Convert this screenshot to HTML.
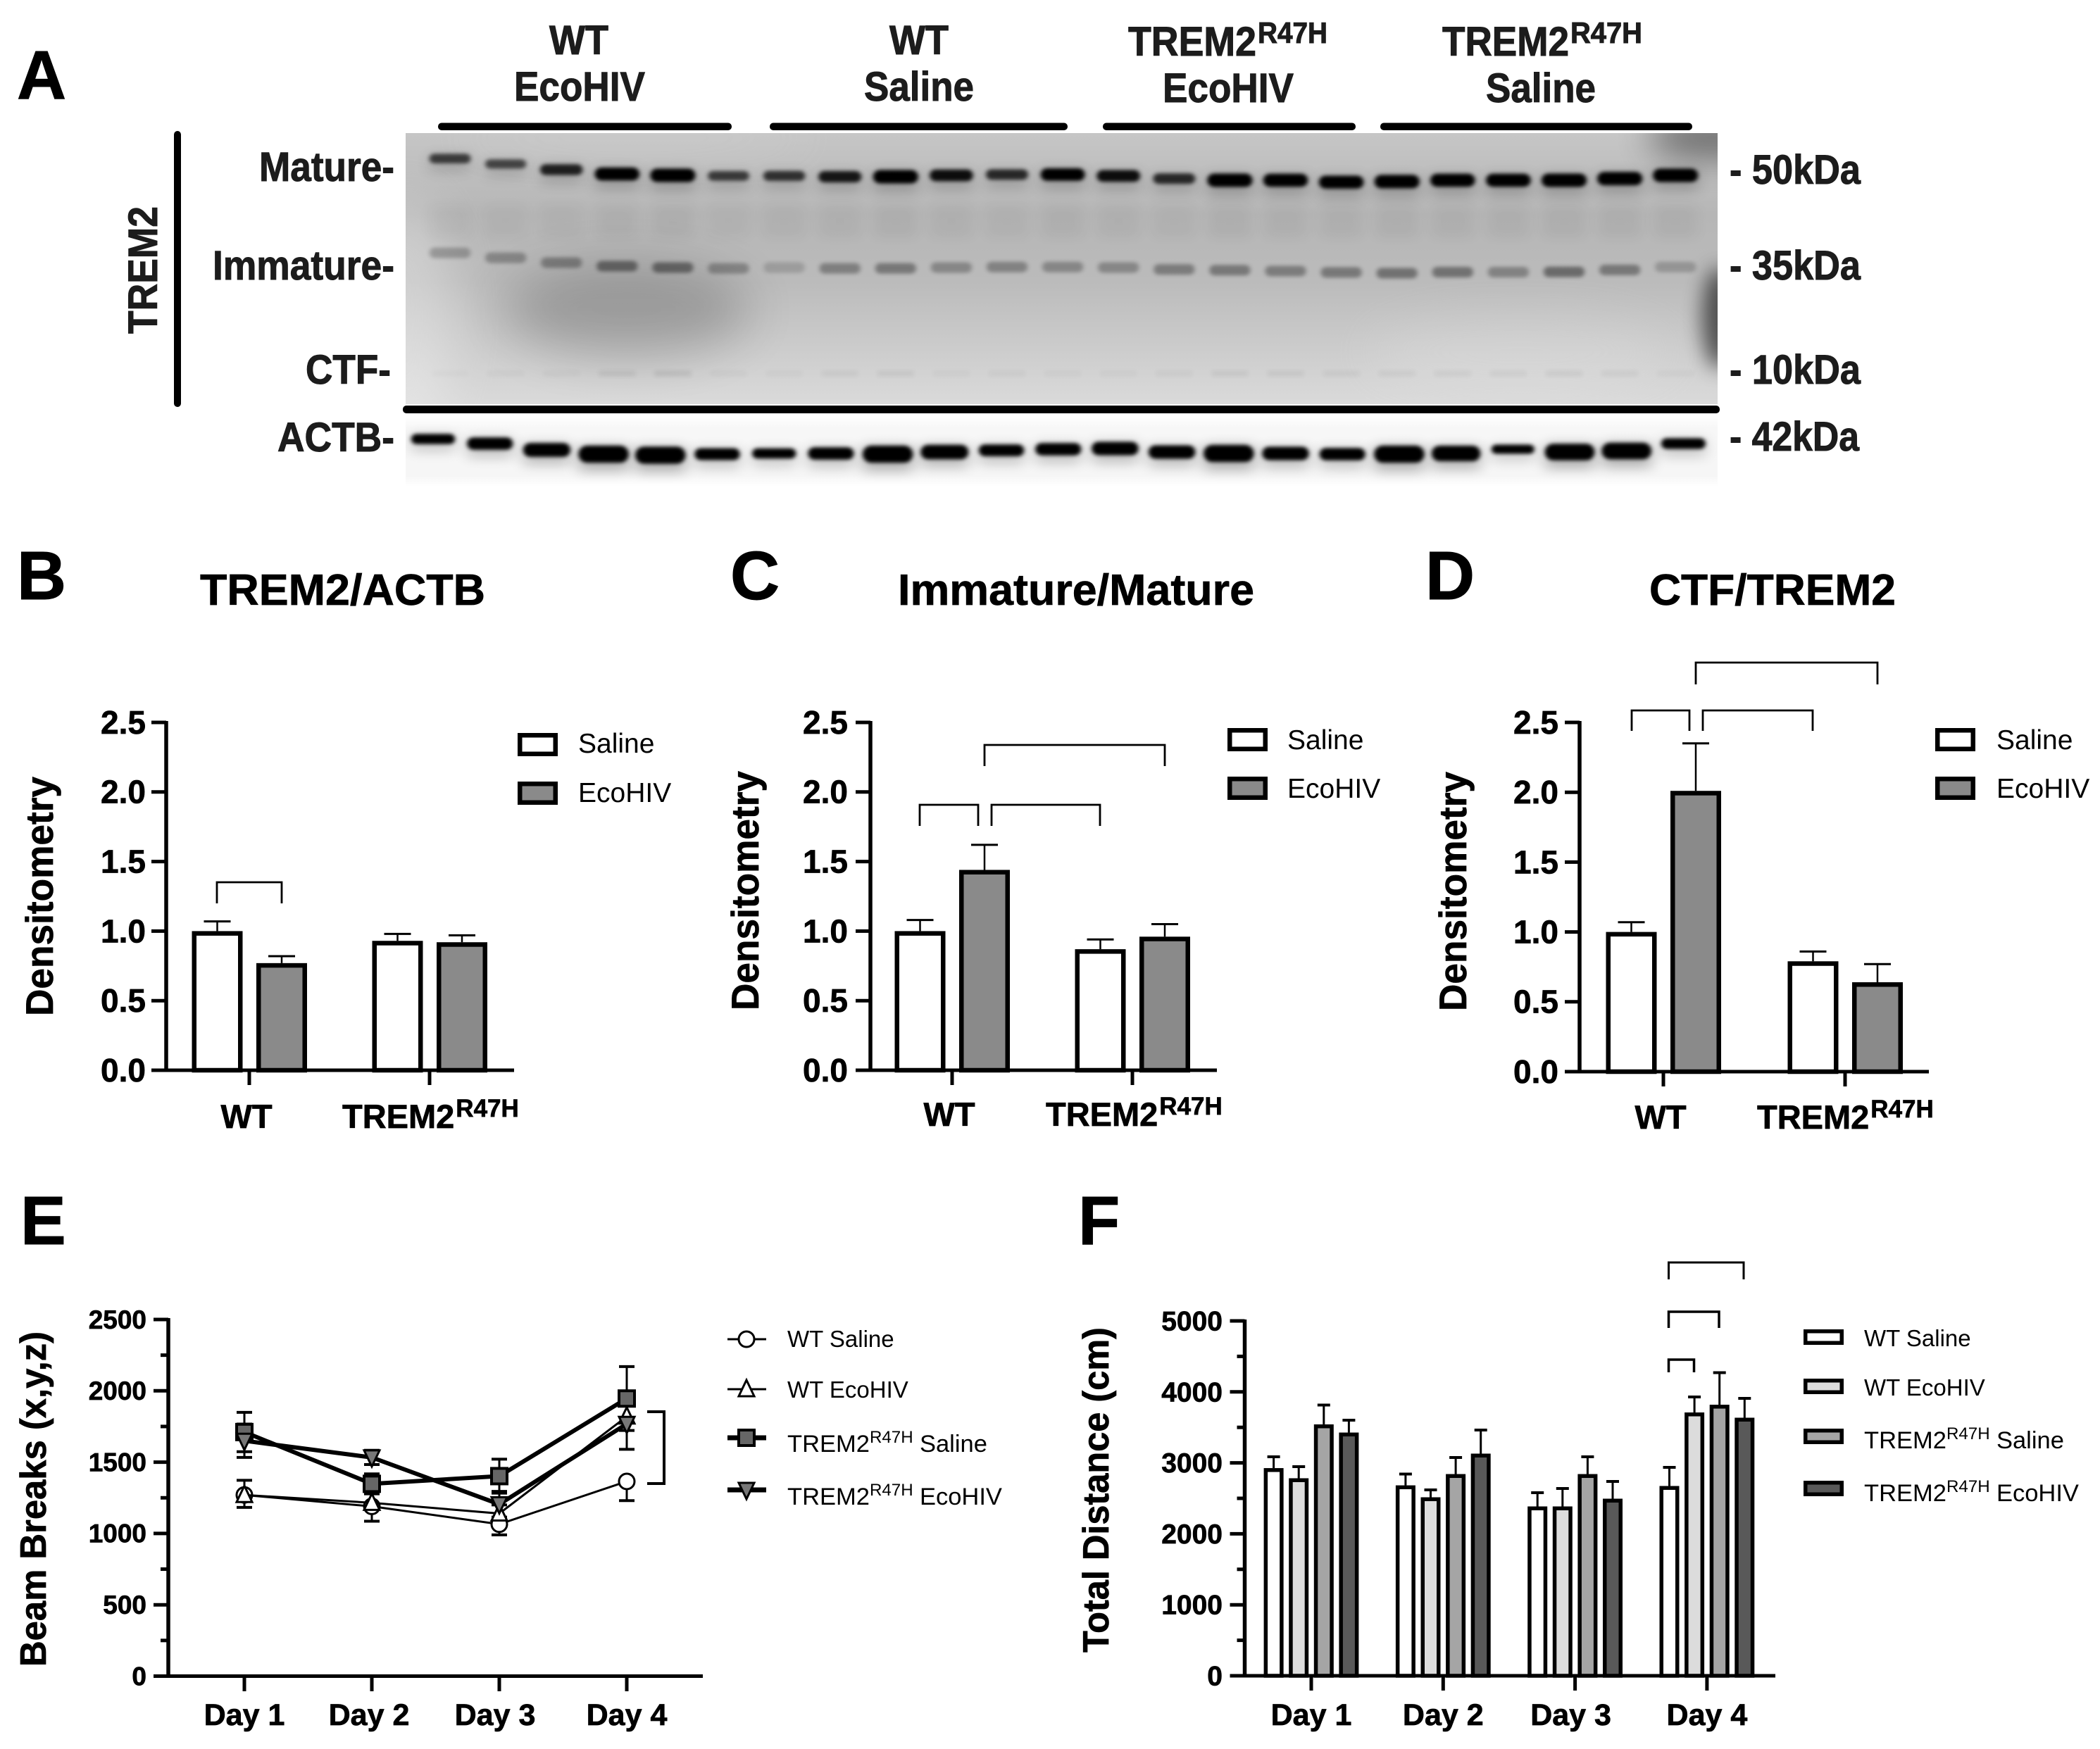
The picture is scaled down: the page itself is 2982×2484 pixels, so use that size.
<!DOCTYPE html>
<html lang="en">
<head>
<meta charset="utf-8">
<title>TREM2 western blot and behaviour figure</title>
<style>
html,body{margin:0;padding:0;background:#fff;}
svg{display:block;}
text{font-family:"Liberation Sans",Arial,sans-serif;}
.b{font-weight:700;}
.ab{font-weight:700;fill:#1c1c1c;font-size:58px;stroke:#1c1c1c;stroke-width:1;}
.letter{font-weight:700;font-size:97px;fill:#000;stroke:#000;stroke-width:1;}
text[font-weight="700"]{stroke:#000;stroke-width:.7;}
</style>
</head>
<body>
<svg id="figure" width="2982" height="2484" viewBox="0 0 2982 2484">
<defs>
<linearGradient id="blotBg" x1="0" y1="0" x2="0" y2="1">
<stop offset="0" stop-color="#c6c6c6"/><stop offset=".3" stop-color="#b6b6b6"/><stop offset=".55" stop-color="#bbbbbb"/><stop offset=".78" stop-color="#cbcbcb"/><stop offset="1" stop-color="#dadada"/>
</linearGradient>
<linearGradient id="actbBg" x1="0" y1="0" x2="0" y2="1">
<stop offset="0" stop-color="#ffffff"/><stop offset=".18" stop-color="#f7f7f7"/><stop offset=".85" stop-color="#f6f6f6"/><stop offset="1" stop-color="#ffffff"/>
</linearGradient>
<filter id="soft" x="-30%" y="-200%" width="160%" height="500%"><feGaussianBlur stdDeviation="3.2 2.6"/></filter>
<filter id="softer" x="-40%" y="-100%" width="180%" height="300%"><feGaussianBlur stdDeviation="10 8"/></filter>
<filter id="haze" filterUnits="userSpaceOnUse" x="300" y="0" width="2400" height="800"><feGaussianBlur stdDeviation="34"/></filter>
<filter id="haze2" filterUnits="userSpaceOnUse" x="2200" y="0" width="500" height="800"><feGaussianBlur stdDeviation="14"/></filter>
<filter id="haze3" filterUnits="userSpaceOnUse" x="2200" y="0" width="500" height="800"><feGaussianBlur stdDeviation="24"/></filter>
<clipPath id="clipUpper"><rect x="576" y="189" width="1863" height="385"/></clipPath>
<clipPath id="clipLower"><rect x="576" y="590" width="1863" height="101"/></clipPath>
</defs>

<rect x="0" y="0" width="2982" height="2484" fill="#fff"/>

<g id="panelA">
<text class="letter" x="24" y="140">A</text>
<text class="ab" x="780" y="77" textLength="84" lengthAdjust="spacingAndGlyphs">WT</text>
<text class="ab" x="730" y="143" textLength="186" lengthAdjust="spacingAndGlyphs">EcoHIV</text>
<text class="ab" x="1263" y="77" textLength="84" lengthAdjust="spacingAndGlyphs">WT</text>
<text class="ab" x="1227" y="143" textLength="156" lengthAdjust="spacingAndGlyphs">Saline</text>
<text class="ab" x="1602" y="79" textLength="182" lengthAdjust="spacingAndGlyphs">TREM2</text>
<text class="ab" x="1786" y="61" style="font-size:42px" textLength="99" lengthAdjust="spacingAndGlyphs">R47H</text>
<text class="ab" x="1651" y="145" textLength="186" lengthAdjust="spacingAndGlyphs">EcoHIV</text>
<text class="ab" x="2048" y="79" textLength="180" lengthAdjust="spacingAndGlyphs">TREM2</text>
<text class="ab" x="2230" y="61" style="font-size:42px" textLength="102" lengthAdjust="spacingAndGlyphs">R47H</text>
<text class="ab" x="2110" y="145" textLength="156" lengthAdjust="spacingAndGlyphs">Saline</text>

<rect x="622" y="174.5" width="417" height="10.5" rx="5" fill="#000"/>
<rect x="1093" y="174.5" width="423" height="10.5" rx="5" fill="#000"/>
<rect x="1566" y="174.5" width="359" height="10.5" rx="5" fill="#000"/>
<rect x="1960" y="174.5" width="443" height="10.5" rx="5" fill="#000"/>

<rect x="247" y="186" width="10" height="392" rx="5" fill="#000"/>
<text class="ab" transform="translate(223 474) rotate(-90)" x="0" y="0" textLength="181" lengthAdjust="spacingAndGlyphs">TREM2</text>

<text class="ab" x="368" y="257" textLength="192" lengthAdjust="spacingAndGlyphs">Mature-</text>
<text class="ab" x="302" y="397" textLength="258" lengthAdjust="spacingAndGlyphs">Immature-</text>
<text class="ab" x="434" y="545" textLength="121" lengthAdjust="spacingAndGlyphs">CTF-</text>
<text class="ab" x="394" y="641" textLength="166" lengthAdjust="spacingAndGlyphs">ACTB-</text>

<g clip-path="url(#clipUpper)">
<rect x="576" y="189" width="1863" height="385" fill="url(#blotBg)"/>
<ellipse cx="890" cy="440" rx="175" ry="65" fill="#000" opacity=".2" filter="url(#haze)"/>
<ellipse cx="575" cy="450" rx="70" ry="170" fill="#fff" opacity=".3" filter="url(#haze)"/>
<ellipse cx="900" cy="195" rx="260" ry="20" fill="#fff" opacity=".12" filter="url(#haze)"/>
<ellipse cx="2160" cy="500" rx="220" ry="50" fill="#fff" opacity=".14" filter="url(#haze)"/>
<ellipse cx="2441" cy="452" rx="24" ry="72" fill="#000" opacity=".6" filter="url(#haze2)"/>
<ellipse cx="2430" cy="195" rx="90" ry="30" fill="#000" opacity=".45" filter="url(#haze3)"/>
<g id="upperBands"></g>
</g>
<rect x="572" y="576" width="1870" height="11" rx="5" fill="#000"/>
<g clip-path="url(#clipLower)">
<rect x="576" y="590" width="1863" height="101" fill="url(#actbBg)"/>
<g id="lowerBands"></g>
</g>

<text class="ab" x="2456" y="261" textLength="186" lengthAdjust="spacingAndGlyphs">- 50kDa</text>
<text class="ab" x="2456" y="397" textLength="186" lengthAdjust="spacingAndGlyphs">- 35kDa</text>
<text class="ab" x="2456" y="545" textLength="186" lengthAdjust="spacingAndGlyphs">- 10kDa</text>
<text class="ab" x="2456" y="640" textLength="184" lengthAdjust="spacingAndGlyphs">- 42kDa</text>
</g>

<text class="letter" x="24" y="851">B</text>
<text class="letter" x="1037" y="851">C</text>
<text class="letter" x="2024" y="851">D</text>
<text class="letter" x="29" y="1767">E</text>
<text class="letter" x="1531" y="1767">F</text>

<text class="b" x="284" y="859" font-size="62" font-weight="700" textLength="405" lengthAdjust="spacingAndGlyphs">TREM2/ACTB</text>
<text class="b" x="1275" y="859" font-size="62" font-weight="700" textLength="506" lengthAdjust="spacingAndGlyphs">Immature/Mature</text>
<text class="b" x="2342" y="859" font-size="62" font-weight="700" textLength="350" lengthAdjust="spacingAndGlyphs">CTF/TREM2</text>

<g id="panelB"></g>
<g id="panelC"></g>
<g id="panelD"></g>
<g id="panelE"></g>
<g id="panelF"></g>
</svg>

<script>
/* ---------- western blot densities (lane order, left to right) ---------- */
const matureIntensity = [.55,.5,.7,.95,1,.55,.6,.75,1,.8,.65,.9,.8,.65,1,.95,.95,1,.95,.95,1,1,1];
const matureMigration = [9.4,11.4,13.5,15.1,15.6,15.8,15.8,16.1,16.1,15.6,15.3,15.3,15.8,16.8,17.4,17.4,18.1,17.9,17.4,17.4,17.4,16.8,15.6];
const immatureIntensity = [.3,.35,.4,.55,.55,.35,.2,.4,.45,.35,.38,.35,.35,.42,.45,.42,.45,.5,.5,.38,.55,.45,.25];
const immatureMigration = [44.2,46,47.8,49.1,49.6,49.9,49.6,49.9,49.9,49.6,49.4,49.4,49.6,50.3,50.6,50.9,51.4,51.7,51.3,51.3,51.2,50.5,49.4];
const ctfIntensity = [.02,.03,.03,.07,.09,.03,.03,.05,.06,.03,.04,.03,.03,.04,.06,.06,.05,.05,.05,.05,.06,.05,.03];
const actbAmount = [.3,.5,.65,.95,.95,.45,.3,.5,.95,.7,.45,.5,.6,.6,.95,.6,.5,.95,.8,.2,.9,.9,.35];
const actbMigration = [33.2,39.6,48.5,54.5,55.9,54.5,53.5,53.5,54.5,51.5,49.1,47.5,46.5,51.5,53.5,53.5,54.5,54.5,53.5,47.5,51.5,50,39.6];

/* ---------- densitometry bar charts ---------- */
const genotypeCategories = ['WT', 'TREM2'];
const densityTicks = [0, 0.5, 1, 1.5, 2, 2.5];
const densityTickLabels = ['0.0', '0.5', '1.0', '1.5', '2.0', '2.5'];
const trem2ActbSaline = [1.0, 0.93];
const trem2ActbEcoHIV = [0.77, 0.92];
const trem2ActbSalineSem = [0.07, 0.05];
const trem2ActbEcoHIVSem = [0.05, 0.05];
const immatureMatureSaline = [1.0, 0.87];
const immatureMatureEcoHIV = [1.44, 0.96];
const immatureMatureSalineSem = [0.08, 0.07];
const immatureMatureEcoHIVSem = [0.18, 0.09];
const ctfTrem2Saline = [1.0, 0.79];
const ctfTrem2EcoHIV = [2.01, 0.64];
const ctfTrem2SalineSem = [0.07, 0.07];
const ctfTrem2EcoHIVSem = [0.34, 0.13];

/* ---------- beam breaks ---------- */
const dayCategories = ['Day 1', 'Day 2', 'Day 3', 'Day 4'];
const beamTicks = [0, 500, 1000, 1500, 2000, 2500];
const beamMinorTicks = [250, 750, 1250, 1750, 2250];
const beamWtSaline = [1270, 1190, 1065, 1365];
const beamWtEcoHIV = [1270, 1215, 1140, 1820];
const beamTrem2Saline = [1711, 1348, 1402, 1946];
const beamTrem2EcoHIV = [1650, 1533, 1205, 1768];
const beamWtSalineLower = [87, 104, 75, 135];
const beamWtEcoHIVUpper = [103, 80, 60, 80];
const beamTrem2SalineSem = [138, 70, 119, 224];
const beamTrem2EcoHIVSem = [117, 50, 90, 178];

/* ---------- total distance ---------- */
const distanceTicks = [0, 1000, 2000, 3000, 4000, 5000];
const distanceMinorTicks = [500, 1500, 2500, 3500, 4500];
const distWtSaline = [2926, 2683, 2386, 2674];
const distWtEcoHIV = [2783, 2515, 2386, 3710];
const distTrem2Saline = [3542, 2842, 2842, 3819];
const distTrem2EcoHIV = [3427, 3130, 2495, 3636];
const distWtSalineSem = [159, 159, 193, 263];
const distWtEcoHIVSem = [163, 104, 253, 219];
const distTrem2SalineSem = [272, 233, 243, 452];
const distTrem2EcoHIVSem = [174, 332, 243, 273];

const NS = document.getElementById('figure').namespaceURI;
function mk(tag, attrs, parent, txt) {
  const e = document.createElementNS(NS, tag);
  for (const k in attrs) e.setAttribute(k, attrs[k]);
  if (txt !== undefined) e.textContent = txt;
  parent.appendChild(e);
  return e;
}

/* ---------- blot ---------- */
const laneX = i => 639 + 79.1 * i;
const actbLaneX = i => 615 + 80.7 * i;
const upperY = m => 189 + 3.85 * m;
const lowerY = m => 590 + 1.01 * m;
const upperBands = document.getElementById('upperBands');
const lowerBands = document.getElementById('lowerBands');
matureIntensity.forEach((v, i) => {
  const smear = mk('rect', {x: laneX(i) - 30, y: 290, width: 60, height: 48, fill: '#000', opacity: 0.012 + v * 0.03, filter: 'url(#softer)'}, upperBands);
  
  
  const h = 7 + 12 * v;
  const w = 52 + 12 * v;
  const halo = mk('rect', {x: laneX(i) - w / 2, y: upperY(matureMigration[i]) - h / 2, width: w, height: h + 14, fill: '#000', opacity: 0.05 + v * 0.12, filter: 'url(#softer)'}, upperBands);
  
  
  const band = mk('rect', {x: laneX(i) - w / 2, y: upperY(matureMigration[i]) - h / 2, width: w, height: h, rx: h / 2, fill: '#000', opacity: Math.min(1, 0.12 + v * 1.0), filter: 'url(#soft)'}, upperBands);
  
  
});
immatureIntensity.forEach((v, i) => {
  const band = mk('rect', {x: laneX(i) - 29, y: upperY(immatureMigration[i]) - 7.5, width: 58, height: 15, rx: 7, fill: '#000', opacity: v * 0.78, filter: 'url(#soft)'}, upperBands);
  
  
});
ctfIntensity.forEach((v, i) => {
  const band = mk('rect', {x: laneX(i) - 26, y: 526, width: 52, height: 9, fill: '#000', opacity: v * 0.8, filter: 'url(#soft)'}, upperBands);
  
  
});
actbAmount.forEach((v, i) => {
  const h = 10 + 15 * v;
  const w = 58 + 14 * v;
  const glow = mk('rect', {x: actbLaneX(i) - w / 2, y: lowerY(actbMigration[i]) - h / 2, width: w, height: h + 12, fill: '#000', opacity: 0.1 + v * 0.18, filter: 'url(#softer)'}, lowerBands);
  
  
  const band = mk('rect', {x: actbLaneX(i) - w / 2, y: lowerY(actbMigration[i]) - h / 2, width: w, height: h, rx: h / 2, fill: '#000', filter: 'url(#soft)'}, lowerBands);
  
  
});

/* ---------- shared pieces ---------- */
function drawBracket(parent, name, x1, x2, yTop, yBot, w) {
  const p = mk('path', {d: `M${x1} ${yBot}V${yTop}H${x2}V${yBot}`, fill: 'none', stroke: '#000', 'stroke-width': w}, parent);
  
  
}
function drawYAxis(parent, p, axisX, xEnd, baseY, topY, yOf, ticks, labels, fs, labelRight, minor) {
  const ax = mk('line', {x1: axisX, x2: axisX, y1: topY - 2, y2: baseY + 2, stroke: '#000', 'stroke-width': 5.5}, parent);
  
  
  const xa = mk('line', {x1: axisX - 21, x2: xEnd, y1: baseY, y2: baseY, stroke: '#000', 'stroke-width': 5}, parent);
  
  
  ticks.forEach((v, i) => {
    const t = mk('line', {x1: axisX - 21, x2: axisX, y1: yOf(v), y2: yOf(v), stroke: '#000', 'stroke-width': 5}, parent);
    
    
    const l = mk('text', {x: labelRight, y: yOf(v) + fs * 0.345, 'text-anchor': 'end', 'font-size': fs, 'font-weight': 700}, parent, labels[i]);
    
    
  });
  (minor || []).forEach(v => {
    const t = mk('line', {x1: axisX - 11, x2: axisX, y1: yOf(v), y2: yOf(v), stroke: '#000', 'stroke-width': 5}, parent);
    
    
  });
}
function drawYTitle(parent, name, txt, x, cy, len, fs) {
  const t = mk('text', {transform: `translate(${x} ${cy}) rotate(-90)`, 'text-anchor': 'middle', 'font-size': fs, 'font-weight': 700, textLength: len, lengthAdjust: 'spacingAndGlyphs'}, parent, txt);
  
  
}
function drawSwatch(parent, name, x, y, w, h, fill, sw) {
  const r = mk('rect', {x: x + sw / 2, y: y + sw / 2, width: w - sw, height: h - sw, fill: fill, stroke: '#000', 'stroke-width': sw}, parent);
  
  
}
function drawBar(parent, name, cx, w, yTop, yBase, fill, sw) {
  const r = mk('rect', {x: cx - w / 2 + sw / 2, y: yTop + sw / 2, width: w - sw, height: yBase - yTop - sw / 2, fill: fill, stroke: '#000', 'stroke-width': sw}, parent);
  
  
}
function drawError(parent, name, cx, y1, y2, cap, lw, cw) {
  const l = mk('line', {x1: cx, x2: cx, y1: y1, y2: y2, stroke: '#000', 'stroke-width': lw}, parent);
  
  
  const c = mk('line', {x1: cx - cap, x2: cx + cap, y1: y2, y2: y2, stroke: '#000', 'stroke-width': cw}, parent);
  
  
}
function drawTrem2Label(parent, name, x, y) {
  const t = mk('text', {x: x, y: y, 'font-size': 47, 'font-weight': 700}, parent, genotypeCategories[1]);
  
  
  mk('tspan', {dx: 2, dy: -16, 'font-size': 35}, t, 'R47H');
}
function drawLegendRich(parent, name, x, y, fs, tail) {
  const t = mk('text', {x: x, y: y, 'font-size': fs}, parent, 'TREM2');
  
  
  mk('tspan', {dy: -13, 'font-size': fs * 0.7}, t, 'R47H');
  mk('tspan', {dy: 13, dx: fs * 0.27}, t, tail);
}

/* ---------- panels B, C, D ---------- */
function drawDensityPanel(id, p, g) {
  const root = document.getElementById(id);
  const yOf = v => g.baseY - v / 2.5 * (g.baseY - g.topY);
  const xOf = i => g.tick0 + i * (g.tick1 - g.tick0);
  const axisTop = mk('g', {}, root);
  
  
  genotypeCategories.forEach((c, i) => {
    const cx = xOf(i);
    [[-45.5, g.saline, g.salineSem, '#fff', 'saline'], [46, g.eco, g.ecoSem, '#8a8a8a', 'ecohiv']].forEach(s => {
      const bx = cx + s[0];
      drawError(axisTop, `${p}-error-${s[4]}-${i}`, bx, yOf(s[1][i]), yOf(s[1][i] + s[2][i]), 19, 2.5, 3);
      drawBar(axisTop, `${p}-bar-${s[4]}-${i}`, bx, 72, yOf(s[1][i]), g.baseY, s[3], 6.5);
    });
    const tick = mk('line', {x1: cx, x2: cx, y1: g.baseY, y2: g.baseY + 21, stroke: '#000', 'stroke-width': 5}, axisTop);
    
    
  });
  drawYAxis(axisTop, p, g.axisX, g.xEnd, g.baseY, g.topY, yOf, densityTicks, densityTickLabels, 46, g.labelRight);
  const wt = mk('text', {x: g.tick0 - 4, y: g.labelY, 'text-anchor': 'middle', 'font-size': 47, 'font-weight': 700}, axisTop, genotypeCategories[0]);
  
  
  drawTrem2Label(axisTop, `${p}-x-label-trem2`, g.tremX, g.labelY);
  drawYTitle(axisTop, `${p}-y-title`, 'Densitometry', g.titleX, g.titleY, 340, 55);
  g.brackets.forEach((b, i) => drawBracket(axisTop, `${p}-significance-bracket-${i}`, b[0], b[1], b[2], b[3], 2.8));
  drawSwatch(axisTop, `${p}-legend-swatch-saline`, g.legX, g.legY[0], 57, 33, '#fff', 6.5);
  drawSwatch(axisTop, `${p}-legend-swatch-ecohiv`, g.legX, g.legY[1], 57, 33, '#8a8a8a', 6.5);
  const l1 = mk('text', {x: g.legTextX, y: g.legBase[0], 'font-size': 39}, axisTop, 'Saline');
  
  
  const l2 = mk('text', {x: g.legTextX, y: g.legBase[1], 'font-size': 39}, axisTop, 'EcoHIV');
  
  
}
drawDensityPanel('panelB', 'trem2-actb', {
  axisX: 236, xEnd: 730, baseY: 1520, topY: 1026, tick0: 354, tick1: 610, labelRight: 207, labelY: 1602, tremX: 486,
  titleX: 75, titleY: 1273, saline: trem2ActbSaline, eco: trem2ActbEcoHIV, salineSem: trem2ActbSalineSem, ecoSem: trem2ActbEcoHIVSem,
  brackets: [[308, 400, 1253, 1283]], legX: 735, legY: [1041, 1110], legTextX: 821, legBase: [1069, 1139]
});
drawDensityPanel('panelC', 'immature-mature', {
  axisX: 1236, xEnd: 1728, baseY: 1520, topY: 1026, tick0: 1352, tick1: 1608, labelRight: 1204, labelY: 1599, tremX: 1485,
  titleX: 1077, titleY: 1265, saline: immatureMatureSaline, eco: immatureMatureEcoHIV, salineSem: immatureMatureSalineSem, ecoSem: immatureMatureEcoHIVSem,
  brackets: [[1306, 1389, 1143, 1173], [1408, 1562, 1143, 1173], [1398, 1654, 1058, 1088]], legX: 1743, legY: [1034, 1103], legTextX: 1828, legBase: [1064, 1133]
});
drawDensityPanel('panelD', 'ctf-trem2', {
  axisX: 2243, xEnd: 2739, baseY: 1522, topY: 1026, tick0: 2362, tick1: 2620, labelRight: 2213, labelY: 1603, tremX: 2495,
  titleX: 2082, titleY: 1266, saline: ctfTrem2Saline, eco: ctfTrem2EcoHIV, salineSem: ctfTrem2SalineSem, ecoSem: ctfTrem2EcoHIVSem,
  brackets: [[2317, 2399, 1009, 1038], [2418, 2574, 1009, 1038], [2408, 2666, 941, 972]], legX: 2748, legY: [1034, 1103], legTextX: 2835, legBase: [1064, 1133]
});

/* ---------- panel E ---------- */
(function () {
  const root = document.getElementById('panelE');
  const baseY = 2380.5, topY = 1874;
  const yOf = v => baseY - v / 2500 * (baseY - topY);
  const xOf = i => 347 + i * 181;
  function marker(kind, cx, cy, parent, name) {
    let m;
    if (kind === 'circle') m = mk('circle', {cx: cx, cy: cy, r: 11, fill: '#fff', stroke: '#000', 'stroke-width': 3}, parent);
    if (kind === 'up') m = mk('path', {d: `M${cx} ${cy - 13}L${cx + 11} ${cy + 10}H${cx - 11}Z`, fill: '#fff', stroke: '#000', 'stroke-width': 3}, parent);
    if (kind === 'square') m = mk('rect', {x: cx - 11, y: cy - 11, width: 22, height: 22, fill: '#666', stroke: '#000', 'stroke-width': 4}, parent);
    if (kind === 'down') m = mk('path', {d: `M${cx} ${cy + 13}L${cx + 11} ${cy - 10}H${cx - 11}Z`, fill: '#777', stroke: '#000', 'stroke-width': 3}, parent);
    
    
  }
  drawYAxis(root, 'beam-breaks', 239, 998, baseY, topY, yOf, beamTicks, beamTicks.map(String), 37, 208, beamMinorTicks);
  dayCategories.forEach((d, i) => {
    const t = mk('line', {x1: xOf(i), x2: xOf(i), y1: baseY, y2: 2402, stroke: '#000', 'stroke-width': 5}, root);
    
    
    const l = mk('text', {x: xOf(i) - (i === 1 ? 4 : i === 2 ? 6 : 0), y: 2450, 'text-anchor': 'middle', 'font-size': 43, 'font-weight': 700}, root, d);
    
    
  });
  const series = [
    {n: 'wt-saline', v: beamWtSaline, up: null, lo: beamWtSalineLower, k: 'circle', w: 3},
    {n: 'wt-ecohiv', v: beamWtEcoHIV, up: beamWtEcoHIVUpper, lo: null, k: 'up', w: 3},
    {n: 'trem2-saline', v: beamTrem2Saline, up: beamTrem2SalineSem, lo: beamTrem2SalineSem, k: 'square', w: 6},
    {n: 'trem2-ecohiv', v: beamTrem2EcoHIV, up: beamTrem2EcoHIVSem, lo: beamTrem2EcoHIVSem, k: 'down', w: 6}
  ];
  series.forEach(s => {
    s.v.forEach((v, i) => {
      if (s.up) drawError(root, `beam-error-up-${s.n}-${i}`, xOf(i), yOf(v), yOf(v + s.up[i]), 11, 3, 4);
      if (s.lo) drawError(root, `beam-error-down-${s.n}-${i}`, xOf(i), yOf(v), yOf(v - s.lo[i]), 11, 3, 4);
    });
  });
  series.forEach(s => {
    const line = mk('polyline', {points: s.v.map((v, i) => `${xOf(i)},${yOf(v)}`).join(' '), fill: 'none', stroke: '#000', 'stroke-width': s.w}, root);
    
    
    s.v.forEach((v, i) => marker(s.k, xOf(i), yOf(v), root, `beam-point-${s.n}-${i}`));
  });
  const br = mk('path', {d: 'M919 2005H943V2107H919', fill: 'none', stroke: '#000', 'stroke-width': 4}, root);
  
  
  drawYTitle(root, 'beam-breaks-y-title', 'Beam Breaks (x,y,z)', 65, 2129, 476, 52);
  const legY = [1902, 1973, 2042, 2116];
  series.forEach((s, i) => {
    const l = mk('line', {x1: 1033, x2: 1088, y1: legY[i], y2: legY[i], stroke: '#000', 'stroke-width': s.w === 3 ? 3 : 7}, root);
    
    
    marker(s.k, 1060, legY[i], root, `beam-legend-marker-${s.n}`);
  });
  const t1 = mk('text', {x: 1118, y: 1913, 'font-size': 33}, root, 'WT Saline');
  
  
  const t2 = mk('text', {x: 1118, y: 1985, 'font-size': 33}, root, 'WT EcoHIV');
  
  
  drawLegendRich(root, 'beam-legend-label-trem2-saline', 1118, 2062, 34.5, 'Saline');
  drawLegendRich(root, 'beam-legend-label-trem2-ecohiv', 1118, 2137, 34.5, 'EcoHIV');
})();

/* ---------- panel F ---------- */
(function () {
  const root = document.getElementById('panelF');
  const baseY = 2380, topY = 1876;
  const yOf = v => baseY - v / 5000 * (baseY - topY);
  const xOf = i => 1862 + i * 187.3;
  const series = [
    {n: 'wt-saline', v: distWtSaline, e: distWtSalineSem, c: '#ffffff'},
    {n: 'wt-ecohiv', v: distWtEcoHIV, e: distWtEcoHIVSem, c: '#dcdcdc'},
    {n: 'trem2-saline', v: distTrem2Saline, e: distTrem2SalineSem, c: '#a5a5a5'},
    {n: 'trem2-ecohiv', v: distTrem2EcoHIV, e: distTrem2EcoHIVSem, c: '#595959'}
  ];
  dayCategories.forEach((d, i) => {
    series.forEach((s, j) => {
      const cx = xOf(i) + (j - 1.5) * 35.6;
      drawError(root, `distance-error-${s.n}-${i}`, cx, yOf(s.v[i]), yOf(s.v[i] + s.e[i]), 9, 3, 4);
      drawBar(root, `distance-bar-${s.n}-${i}`, cx, 28, yOf(s.v[i]), baseY, s.c, 5.5);
    });
    const t = mk('line', {x1: xOf(i), x2: xOf(i), y1: baseY, y2: 2401, stroke: '#000', 'stroke-width': 5}, root);
    
    
    const l = mk('text', {x: xOf(i) - (i === 2 ? 6 : 0), y: 2450, 'text-anchor': 'middle', 'font-size': 43, 'font-weight': 700}, root, d);
    
    
  });
  drawYAxis(root, 'distance', 1767.5, 2521, baseY, topY, yOf, distanceTicks, distanceTicks.map(String), 39, 1736, distanceMinorTicks);
  drawBracket(root, 'distance-bracket-top', 2369.5, 2476, 1793, 1817, 3);
  drawBracket(root, 'distance-bracket-middle', 2369.5, 2441, 1863, 1886, 3.5);
  drawBracket(root, 'distance-bracket-bottom', 2369.5, 2405.5, 1931, 1949, 3.5);
  drawYTitle(root, 'distance-y-title', 'Total Distance (cm)', 1574, 2116, 462, 52);
  const ly = [1888, 1958, 2029, 2103];
  series.forEach((s, i) => drawSwatch(root, `distance-legend-swatch-${s.n}`, 2561, ly[i], 57, 22, s.c, 5.5));
  const t1 = mk('text', {x: 2647, y: 1912, 'font-size': 33}, root, 'WT Saline');
  
  
  const t2 = mk('text', {x: 2647, y: 1982, 'font-size': 33}, root, 'WT EcoHIV');
  
  
  drawLegendRich(root, 'distance-legend-label-trem2-saline', 2647, 2057, 34.5, 'Saline');
  drawLegendRich(root, 'distance-legend-label-trem2-ecohiv', 2647, 2132, 34.5, 'EcoHIV');
})();
</script>
</body>
</html>
